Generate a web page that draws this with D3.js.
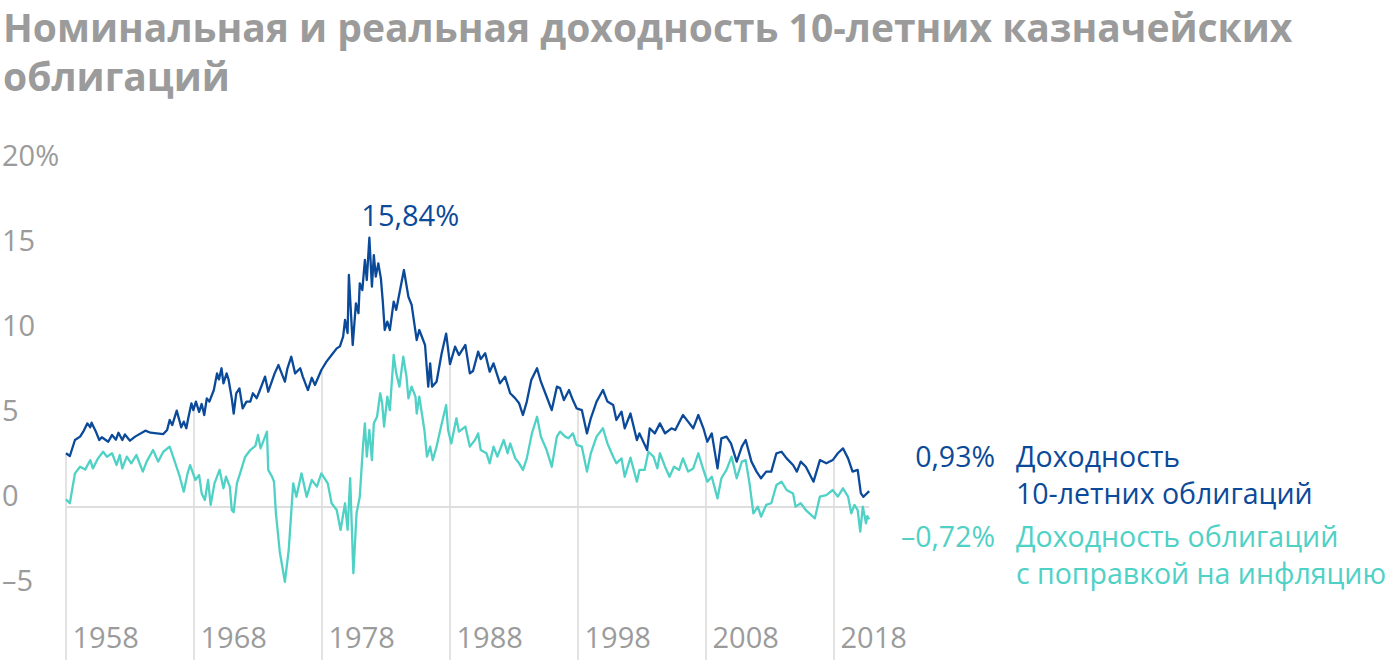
<!DOCTYPE html>
<html>
<head>
<meta charset="utf-8">
<script src="https://cdn.jsdelivr.net/npm/d3@7"></script>
<style>
  body { margin: 0; background: #fff; }
  text { font-family: "Open Sans", Roboto, sans-serif; }
</style>
</head>
<body>
<svg width="1400" height="660"></svg>
<script>
// данные: годы и доходность, %
const nomYears = [1958.0,1958.3,1958.7,1959.1,1959.35,1959.67,1959.9,1960.0,1960.3,1960.6,1960.8,1961.3,1961.6,1961.9,1962.1,1962.4,1962.6,1963.0,1963.4,1964.2,1964.6,1965.6,1965.9,1966.1,1966.3,1966.65,1966.85,1967.0,1967.2,1967.4,1967.55,1967.8,1967.95,1968.15,1968.4,1968.6,1968.8,1969.0,1969.2,1969.55,1969.8,1969.95,1970.15,1970.3,1970.55,1970.7,1970.95,1971.1,1971.3,1971.55,1971.8,1972.1,1972.4,1972.6,1972.9,1973.1,1973.55,1973.8,1974.3,1974.6,1975.1,1975.3,1975.6,1975.9,1976.3,1976.5,1976.9,1977.2,1977.45,1977.95,1978.35,1978.75,1979.15,1979.4,1979.65,1979.8,1980.0,1980.1,1980.4,1980.65,1980.85,1980.95,1981.15,1981.35,1981.5,1981.7,1981.9,1982.05,1982.2,1982.4,1982.6,1982.75,1982.9,1983.1,1983.3,1983.6,1983.8,1984.4,1984.75,1985.0,1985.4,1985.6,1986.05,1986.3,1986.45,1986.6,1986.95,1987.35,1987.7,1988.0,1988.4,1988.7,1989.2,1989.55,1989.8,1990.2,1990.4,1990.75,1991.1,1991.4,1991.9,1992.3,1992.7,1993.1,1993.4,1993.7,1994.0,1994.35,1994.8,1995.1,1995.5,1995.95,1996.35,1996.6,1996.9,1997.3,1997.6,1997.9,1998.3,1998.7,1999.0,1999.45,1999.95,2000.3,2000.75,2001.0,2001.4,2001.65,2002.1,2002.6,2002.8,2003.4,2003.6,2004.0,2004.4,2004.8,2005.3,2005.6,2006.2,2006.6,2007.0,2007.4,2007.8,2008.1,2008.45,2008.9,2009.2,2009.6,2009.95,2010.4,2010.8,2011.1,2011.55,2011.95,2012.3,2012.7,2013.1,2013.5,2013.9,2014.3,2014.8,2015.1,2015.4,2015.8,2016.4,2016.9,2017.4,2017.9,2018.3,2018.7,2019.1,2019.45,2019.85,2020.1,2020.3,2020.75];
const nomValues = [3.16,3.0,3.94,4.14,4.43,4.92,4.69,4.96,4.49,3.94,4.1,3.84,4.24,3.96,4.37,3.94,4.27,3.9,4.14,4.49,4.37,4.29,4.53,5.12,4.82,5.67,5.12,4.69,5.02,4.63,5.22,6.1,5.7,6.2,5.6,6.06,5.41,6.39,6.2,6.88,7.86,7.5,8.16,7.27,7.86,7.5,6.39,5.5,6.69,6.98,5.8,6.2,6.2,6.69,6.4,6.78,7.67,6.78,7.86,8.35,7.37,8.16,8.84,7.86,8.16,7.67,6.88,7.6,7.18,8.06,8.55,8.94,9.33,9.45,10.02,11.0,10.23,13.65,9.53,11.98,11.4,13.16,12.76,14.53,13.35,15.84,12.96,14.82,13.55,14.33,13.45,12.08,10.41,10.9,10.41,12.08,11.6,13.94,12.37,11.9,9.82,10.41,9.53,7.08,8.45,7.08,7.37,9.04,10.2,8.4,9.43,8.94,9.53,7.86,8.0,9.14,8.7,9.04,7.96,8.45,7.27,7.67,6.69,6.39,6.1,5.41,6.2,7.47,8.16,7.37,6.59,5.7,7.08,7.0,6.29,6.88,6.29,5.8,5.7,4.33,5.22,6.2,6.88,6.2,6.0,5.12,5.61,4.63,5.5,3.94,4.33,3.35,4.63,4.33,4.92,4.33,4.63,4.53,5.41,5.02,4.63,5.41,4.63,3.84,4.33,2.27,4.04,4.14,3.74,2.67,3.55,3.94,2.67,2.08,1.69,2.08,2.08,3.16,3.25,2.86,2.47,2.08,2.67,2.37,1.49,2.76,2.57,2.76,3.16,3.45,2.86,2.08,2.18,0.8,0.6,0.93];

const realYears = [1958.0,1958.3,1958.7,1959.1,1959.5,1959.9,1960.1,1960.5,1960.9,1961.2,1961.6,1961.95,1962.2,1962.4,1962.75,1963.1,1963.5,1964.0,1964.3,1964.8,1965.2,1965.6,1966.1,1966.5,1966.85,1967.2,1967.5,1967.7,1968.1,1968.4,1968.6,1968.85,1969.1,1969.3,1969.6,1970.0,1970.3,1970.5,1970.8,1970.95,1971.1,1971.35,1971.6,1972.0,1972.4,1972.8,1973.0,1973.2,1973.7,1973.8,1974.1,1974.25,1974.4,1974.7,1975.1,1975.4,1975.75,1976.0,1976.4,1976.8,1977.2,1977.6,1977.95,1978.45,1978.75,1979.15,1979.45,1979.8,1980.0,1980.2,1980.45,1980.7,1980.95,1981.2,1981.35,1981.5,1981.7,1981.9,1982.05,1982.3,1982.55,1982.7,1982.85,1983.1,1983.3,1983.6,1983.8,1984.05,1984.35,1984.6,1984.75,1985.0,1985.3,1985.4,1985.6,1986.0,1986.2,1986.45,1986.65,1986.95,1987.3,1987.7,1987.85,1988.1,1988.5,1988.7,1989.2,1989.55,1989.95,1990.2,1990.4,1990.85,1991.1,1991.4,1991.7,1992.2,1992.5,1992.7,1993.1,1993.4,1993.7,1994.0,1994.4,1994.8,1995.1,1995.55,1995.95,1996.35,1996.6,1997.0,1997.25,1997.6,1997.9,1998.3,1998.7,1999.0,1999.45,1999.95,2000.3,2000.75,2001.0,2001.4,2001.65,2002.1,2002.6,2002.8,2003.2,2003.5,2003.9,2004.2,2004.4,2004.8,2005.15,2005.5,2005.9,2006.2,2006.6,2007.0,2007.4,2007.8,2008.1,2008.45,2008.9,2009.2,2009.6,2010.0,2010.4,2010.8,2011.1,2011.4,2011.7,2012.05,2012.3,2012.7,2013.1,2013.5,2013.9,2014.3,2014.8,2015.0,2015.4,2015.8,2016.5,2016.9,2017.4,2017.9,2018.3,2018.7,2019.1,2019.35,2019.6,2019.85,2020.05,2020.25,2020.5,2020.6,2020.75];
const realValues = [0.45,0.22,1.98,2.37,2.2,2.76,2.27,2.86,3.25,2.96,3.16,2.47,3.06,2.27,2.96,2.57,3.06,2.08,2.67,3.35,2.67,3.25,3.55,2.67,1.88,0.9,1.98,2.47,1.59,1.88,0.8,0.41,1.59,0.12,1.39,2.18,1.1,1.78,1.2,-0.18,-0.3,1.39,1.98,2.96,3.35,3.6,4.24,3.45,4.43,2.18,1.78,1.49,-0.37,-2.63,-4.4,-2.53,1.39,0.6,1.98,0.6,1.59,1.2,1.98,1.39,0.22,-0.18,-1.35,0.22,-1.35,1.69,-3.9,-0.37,0.6,3.55,4.92,2.96,4.53,2.76,4.92,5.31,6.69,6.1,4.73,6.49,5.7,8.94,7.86,7.08,8.84,7.67,6.39,7.08,6.49,5.5,6.49,4.53,2.96,3.55,2.76,3.55,4.73,6.0,4.53,3.74,5.22,4.43,4.73,3.55,3.94,4.33,3.35,3.16,2.57,3.55,2.96,3.94,3.16,3.74,2.86,2.57,2.18,2.86,4.33,5.31,4.14,3.35,2.37,4.14,4.43,4.14,4.04,4.33,3.65,3.55,2.08,3.16,4.14,4.63,3.74,2.96,2.57,2.86,1.78,2.9,1.49,2.18,2.18,3.25,2.96,2.27,3.16,2.37,1.78,2.37,2.18,2.86,2.08,2.27,3.16,2.18,1.49,1.78,0.51,1.69,2.18,2.96,1.69,2.67,2.76,1.39,-0.37,0.02,-0.57,0.12,0.22,1.29,1.49,1.0,0.8,0.02,0.22,-0.18,-0.67,0.61,0.7,1.0,0.61,1.1,0.61,-0.37,0.12,-0.18,-1.45,0.02,-0.96,-0.53,-0.72];

const yTicks = [-5, 0, 5, 10, 15, 20];
const xTicks = [1958, 1968, 1978, 1988, 1998, 2008, 2018];
const titleLines = ["Номинальная и реальная доходность 10-летних казначейских", "облигаций"];

const blue = "#0b4a99";
const teal = "#4fd1c6";
const gray = "#9b9b9b";

const svg = d3.select("svg");
const height = +svg.attr("height");

// шкали
const x = d3.scaleLinear().domain([1958, 2018]).range([66, 834]);
const y = d3.scaleLinear().domain([-5, 20]).range([592, 167]);

const nominal = nomYears.map((t, i) => ({ t, v: nomValues[i] }));
const real = realYears.map((t, i) => ({ t, v: realValues[i] }));

// заголовок
svg.append("g").selectAll("text")
  .data(titleLines)
  .join("text")
  .attr("x", 3)
  .attr("y", (d, i) => 42 + i * 49)
  .attr("fill", gray)
  .attr("font-size", 39)
  .attr("font-weight", 700)
  .text(d => d);

// вертикальные линии по десятилетиям: от номинальной линии до низа
const bis = d3.bisector(d => d.t).center;
svg.append("g").selectAll("line")
  .data(xTicks)
  .join("line")
  .attr("x1", d => x(d)).attr("x2", d => x(d))
  .attr("y1", d => y(nominal[bis(nominal, d)].v))
  .attr("y2", height)
  .attr("stroke", "#e3e3e3")
  .attr("stroke-width", 2);

// нулевая линия
svg.append("line")
  .attr("x1", x(nomYears[0])).attr("x2", x(nomYears[nomYears.length - 1]))
  .attr("y1", y(0)).attr("y2", y(0))
  .attr("stroke", "#dedede")
  .attr("stroke-width", 2);

// оси
const yAxis = svg.append("g")
  .call(d3.axisLeft(y).tickValues(yTicks).tickSize(0)
    .tickFormat(d => d === 20 ? "20%" : d < 0 ? "–" + Math.abs(d) : String(d)));
yAxis.select(".domain").remove();
yAxis.selectAll("text")
  .attr("x", 2).attr("dy", "-0.04em")
  .attr("text-anchor", "start")
  .attr("fill", gray)
  .attr("font-size", 29)
  .attr("font-family", "'Open Sans', sans-serif");

const xAxis = svg.append("g")
  .attr("transform", "translate(0,620)")
  .call(d3.axisBottom(x).tickValues(xTicks).tickSize(0).tickFormat(d3.format("d")));
xAxis.select(".domain").remove();
xAxis.selectAll("text")
  .attr("x", 6).attr("y", 28).attr("dy", 0)
  .attr("text-anchor", "start")
  .attr("fill", gray)
  .attr("font-size", 29)
  .attr("font-family", "'Open Sans', sans-serif");

// линии
const line = d3.line()
  .x(d => x(d.t))
  .y(d => y(d.v));

svg.append("path")
  .datum(real)
  .attr("fill", "none")
  .attr("stroke", teal)
  .attr("stroke-width", 2.3)
  .attr("stroke-linejoin", "round")
  .attr("d", line);

svg.append("path")
  .datum(nominal)
  .attr("fill", "none")
  .attr("stroke", blue)
  .attr("stroke-width", 2.3)
  .attr("stroke-linejoin", "round")
  .attr("d", line);

// пик
const peak = nominal[d3.maxIndex(nominal, d => d.v)];
svg.append("text")
  .attr("x", x(peak.t) - 8)
  .attr("y", y(peak.v) - 12)
  .attr("fill", blue)
  .attr("font-size", 29)
  .text(d3.format(".2f")(peak.v).replace(".", ",") + "%");

// подписи справа
const fmt = v => (v < 0 ? "–" : "") + d3.format(".2f")(Math.abs(v)).replace(".", ",") + "%";
const labels = [
  { value: nomValues[nomValues.length - 1], lines: ["Доходность", "10-летних облигаций"], color: blue, y: 467 },
  { value: realValues[realValues.length - 1], lines: ["Доходность облигаций", "с поправкой на инфляцию"], color: teal, y: 547 }
];
labels.forEach(l => {
  svg.append("text")
    .attr("x", 995).attr("y", l.y)
    .attr("text-anchor", "end")
    .attr("fill", l.color)
    .attr("font-size", 28.5)
    .text(fmt(l.value));
  l.lines.forEach((s, i) => {
    svg.append("text")
      .attr("x", 1016).attr("y", l.y + i * 37)
      .attr("fill", l.color)
      .attr("font-size", 28.5)
      .text(s);
  });
});
</script>
</body>
</html>
